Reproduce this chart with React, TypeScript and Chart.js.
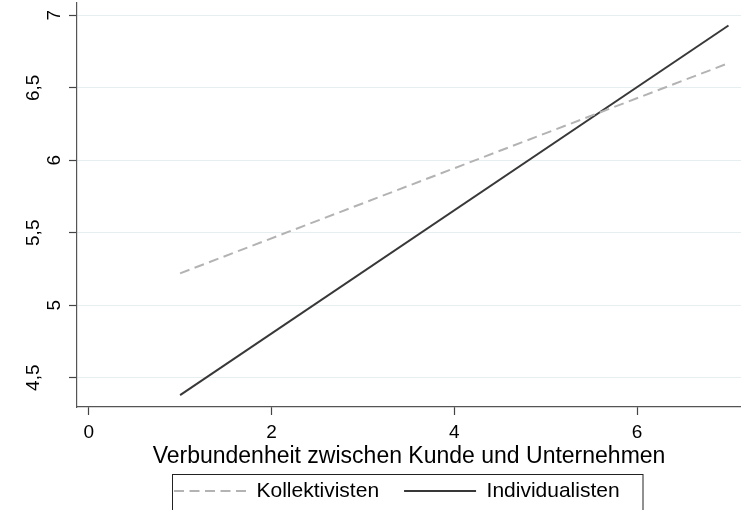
import React, { useEffect, useRef } from 'react';
import { Chart, registerables } from 'chart.js';

Chart.register(...registerables);

// ---- data ----
const seriesNames = ['Kollektivisten', 'Individualisten'];
const xValues = [1, 7];
const kollektivisten = [5.22, 6.67];
const individualisten = [4.38, 6.93];
const xTickValues = [0, 2, 4, 6];
const xTickLabels = ['0', '2', '4', '6'];
const yTickValues = [4.5, 5, 5.5, 6, 6.5, 7];
const yTickLabels = ['4,5', '5', '5,5', '6', '6,5', '7'];
const xTitle = 'Verbundenheit zwischen Kunde und Unternehmen';
const xRange = [-0.128, 7.137];
const yRange = [4.298, 7.085];

const FONT = "'Liberation Sans', Arial, Helvetica, sans-serif";

const legendFrame = {
  id: 'legendFrame',
  afterLayout(chart: any) {
    const lg = chart.legend;
    if (!lg) return;
    lg.left = 149;
    lg.right = 741;
    lg.top = 455.5;
    lg.bottom = 510;
  },
  afterDraw(chart: any) {
    const ctx = chart.ctx;
    ctx.save();
    ctx.strokeStyle = '#222';
    ctx.lineWidth = 1;
    ctx.setLineDash([]);
    ctx.strokeRect(172.5, 474.5, 470.5, 60);
    ctx.restore();
  },
};

export default function App() {
  const ref = useRef<HTMLCanvasElement | null>(null);

  useEffect(() => {
    if (!ref.current) return;
    const chart = new Chart(ref.current, {
      type: 'line',
      data: {
        datasets: [
          {
            label: seriesNames[0],
            data: xValues.map((x, i) => ({ x, y: kollektivisten[i] })),
            borderColor: '#b3b3b3',
            backgroundColor: '#b3b3b3',
            borderWidth: 2,
            borderDash: [10, 5.5],
            pointRadius: 0,
            tension: 0,
          },
          {
            label: seriesNames[1],
            data: xValues.map((x, i) => ({ x, y: individualisten[i] })),
            borderColor: '#383838',
            backgroundColor: '#383838',
            borderWidth: 2,
            pointRadius: 0,
            tension: 0,
          },
        ],
      },
      options: {
        responsive: false,
        animation: false,
        layout: { padding: { top: 3, left: 0, right: 0, bottom: 0 } },
        plugins: {
          tooltip: { enabled: false },
          legend: {
            position: 'bottom',
            align: 'start',
            maxHeight: 36,
            labels: {
              usePointStyle: true,
              pointStyle: 'line',
              pointStyleWidth: 72,
              padding: 25,
              color: '#000',
              font: { family: FONT, size: 21 },
              generateLabels: (chart: any) => {
                const items = Chart.defaults.plugins.legend.labels.generateLabels(chart);
                items.forEach((it: any) => {
                  const ds: any = chart.data.datasets[it.datasetIndex];
                  it.lineDash = ds.borderDash || [];
                  it.lineWidth = ds.borderWidth;
                  it.strokeStyle = ds.borderColor;
                  it.pointStyle = 'line';
                });
                return items;
              },
            },
          },
        },
        scales: {
          x: {
            type: 'linear',
            min: xRange[0],
            max: xRange[1],
            afterBuildTicks: (axis: any) => {
              axis.ticks = xTickValues.map((v) => ({ value: v }));
            },
            afterFit: (scale: any) => {
              scale.height = 67;
              scale.paddingLeft = 0;
              scale.paddingRight = 0;
            },
            ticks: {
              autoSkip: false,
              maxRotation: 0,
              padding: 6,
              color: '#000',
              font: { family: FONT, size: 19 },
              callback: (_v: any, i: number) => xTickLabels[i],
            },
            grid: {
              display: true,
              drawOnChartArea: false,
              drawTicks: true,
              tickLength: 8,
              tickColor: '#444',
              tickWidth: 1.2,
            },
            border: { display: true, color: '#555', width: 1.2 },
            title: {
              display: true,
              text: xTitle,
              color: '#000',
              font: { family: FONT, size: 23 },
              padding: { top: 0, bottom: 4 },
            },
          },
          y: {
            type: 'linear',
            min: yRange[0],
            max: yRange[1],
            afterBuildTicks: (axis: any) => {
              axis.ticks = yTickValues.map((v) => ({ value: v }));
            },
            afterFit: (scale: any) => {
              scale.width = 77;
              scale.paddingTop = 0;
              scale.paddingBottom = 0;
            },
            ticks: {
              autoSkip: false,
              minRotation: 90,
              maxRotation: 90,
              crossAlign: 'center',
              padding: 11.8,
              color: '#000',
              font: { family: FONT, size: 19, lineHeight: '21px' },
              callback: (_v: any, i: number) => {
                const lbl = yTickLabels[i];
                return lbl.includes(',') ? [lbl, ''] : ['', lbl];
              },
            },
            grid: {
              display: true,
              color: '#e6eef0',
              lineWidth: 1,
              drawTicks: true,
              tickLength: 8,
              tickColor: '#444',
              tickWidth: 1.2,
            },
            border: { display: true, color: '#555', width: 1.2 },
          },
        },
      },
      plugins: [legendFrame],
    } as any);
    return () => chart.destroy();
  }, []);

  return (
    <div style={{ position: 'fixed', left: 0, top: 0, width: 741, height: 510, background: '#fff' }}>
      <canvas ref={ref} width={741} height={510} style={{ display: 'block' }} />
    </div>
  );
}
